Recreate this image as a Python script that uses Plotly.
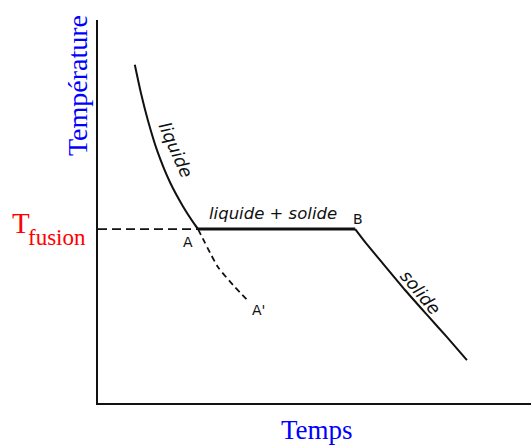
import plotly.graph_objects as go

# Cooling curve of a pure substance (arbitrary units: time 0-100, temperature 0-100)
liquid_t = [8.5, 9.9, 11.5, 13.6, 16.6, 19.6, 22.4, 23.1]
liquid_T = [88.3, 81.0, 73.9, 66.1, 57.7, 51.4, 46.5, 45.4]

plateau_t = [23.1, 59.4]
plateau_T = [45.4, 45.4]

solid_t = [59.4, 61.7, 66.1, 70.9, 76.0, 80.6, 85.2]
solid_T = [45.4, 42.0, 36.0, 29.5, 23.0, 17.2, 11.2]

# supercooled liquid branch A -> A'
super_t = [23.1, 27.7, 31.6, 34.9]
super_T = [45.4, 35.5, 30.3, 26.4]

T_fusion = 45.4

fig = go.Figure()
ink = "#111111"
fig.add_trace(go.Scatter(x=[0, plateau_t[0]], y=[T_fusion, T_fusion], mode="lines",
                         line=dict(color=ink, width=1.6, dash="9px,5px")))
fig.add_trace(go.Scatter(x=liquid_t, y=liquid_T, mode="lines",
                         line=dict(color=ink, width=2, shape="spline", smoothing=0.6)))
fig.add_trace(go.Scatter(x=plateau_t, y=plateau_T, mode="lines",
                         line=dict(color=ink, width=3)))
fig.add_trace(go.Scatter(x=solid_t, y=solid_T, mode="lines",
                         line=dict(color=ink, width=2, shape="spline", smoothing=0.6)))
fig.add_trace(go.Scatter(x=super_t, y=super_T, mode="lines",
                         line=dict(color=ink, width=1.8, dash="6px,4px",
                                   shape="spline", smoothing=0.5)))

serif = "Liberation Serif"
sans_i = "DejaVu Sans"
ann = []
# axis titles and the melting-point label sit outside the plotting area (paper coords)
common = dict(xref="paper", yref="paper", showarrow=False,
              xanchor="center", yanchor="middle")
ann.append(dict(common, x=-0.0485, y=0.830, text="Température", textangle=-90,
                font=dict(family=serif, size=28, color="#0000ff")))
ann.append(dict(common, x=0.506, y=-0.0705, text="Temps",
                font=dict(family=serif, size=27, color="#0000ff")))
ann.append(dict(common, x=-0.178, y=0.47, text="T",
                font=dict(family=serif, size=29, color="#ff0000")))
ann.append(dict(common, x=-0.0947, y=0.431, text="fusion",
                font=dict(family=serif, size=23, color="#ff0000")))
# curve labels
ann.append(dict(x=17.9, y=66.0, text="<i>liquide</i>", textangle=66, showarrow=False,
                font=dict(family=sans_i, size=17.5, color=ink)))
ann.append(dict(x=40.5, y=49.6, text="<i>liquide + solide</i>", showarrow=False,
                font=dict(family=sans_i, size=16.5, color=ink)))
ann.append(dict(x=74.4, y=29.0, text="<i>solide</i>", textangle=50, showarrow=False,
                font=dict(family=sans_i, size=17.5, color=ink)))
ann.append(dict(x=20.8, y=42.0, text="A", showarrow=False,
                font=dict(family=sans_i, size=14, color=ink)))
ann.append(dict(x=60.1, y=48.0, text="B", showarrow=False,
                font=dict(family=sans_i, size=14, color=ink)))
ann.append(dict(x=37.0, y=24.2, text="A'", showarrow=False,
                font=dict(family=sans_i, size=14, color=ink)))

fig.update_layout(
    width=531, height=445,
    margin=dict(l=98, r=0, t=20, b=42),
    paper_bgcolor="white", plot_bgcolor="white",
    showlegend=False,
    annotations=ann,
    xaxis=dict(range=[0, 100], showline=True, linecolor=ink, linewidth=2,
               showgrid=False, zeroline=False, showticklabels=False, ticks=""),
    yaxis=dict(range=[0, 100], showline=True, linecolor=ink, linewidth=2,
               showgrid=False, zeroline=False, showticklabels=False, ticks=""),
)

fig.write_html("out.html")
